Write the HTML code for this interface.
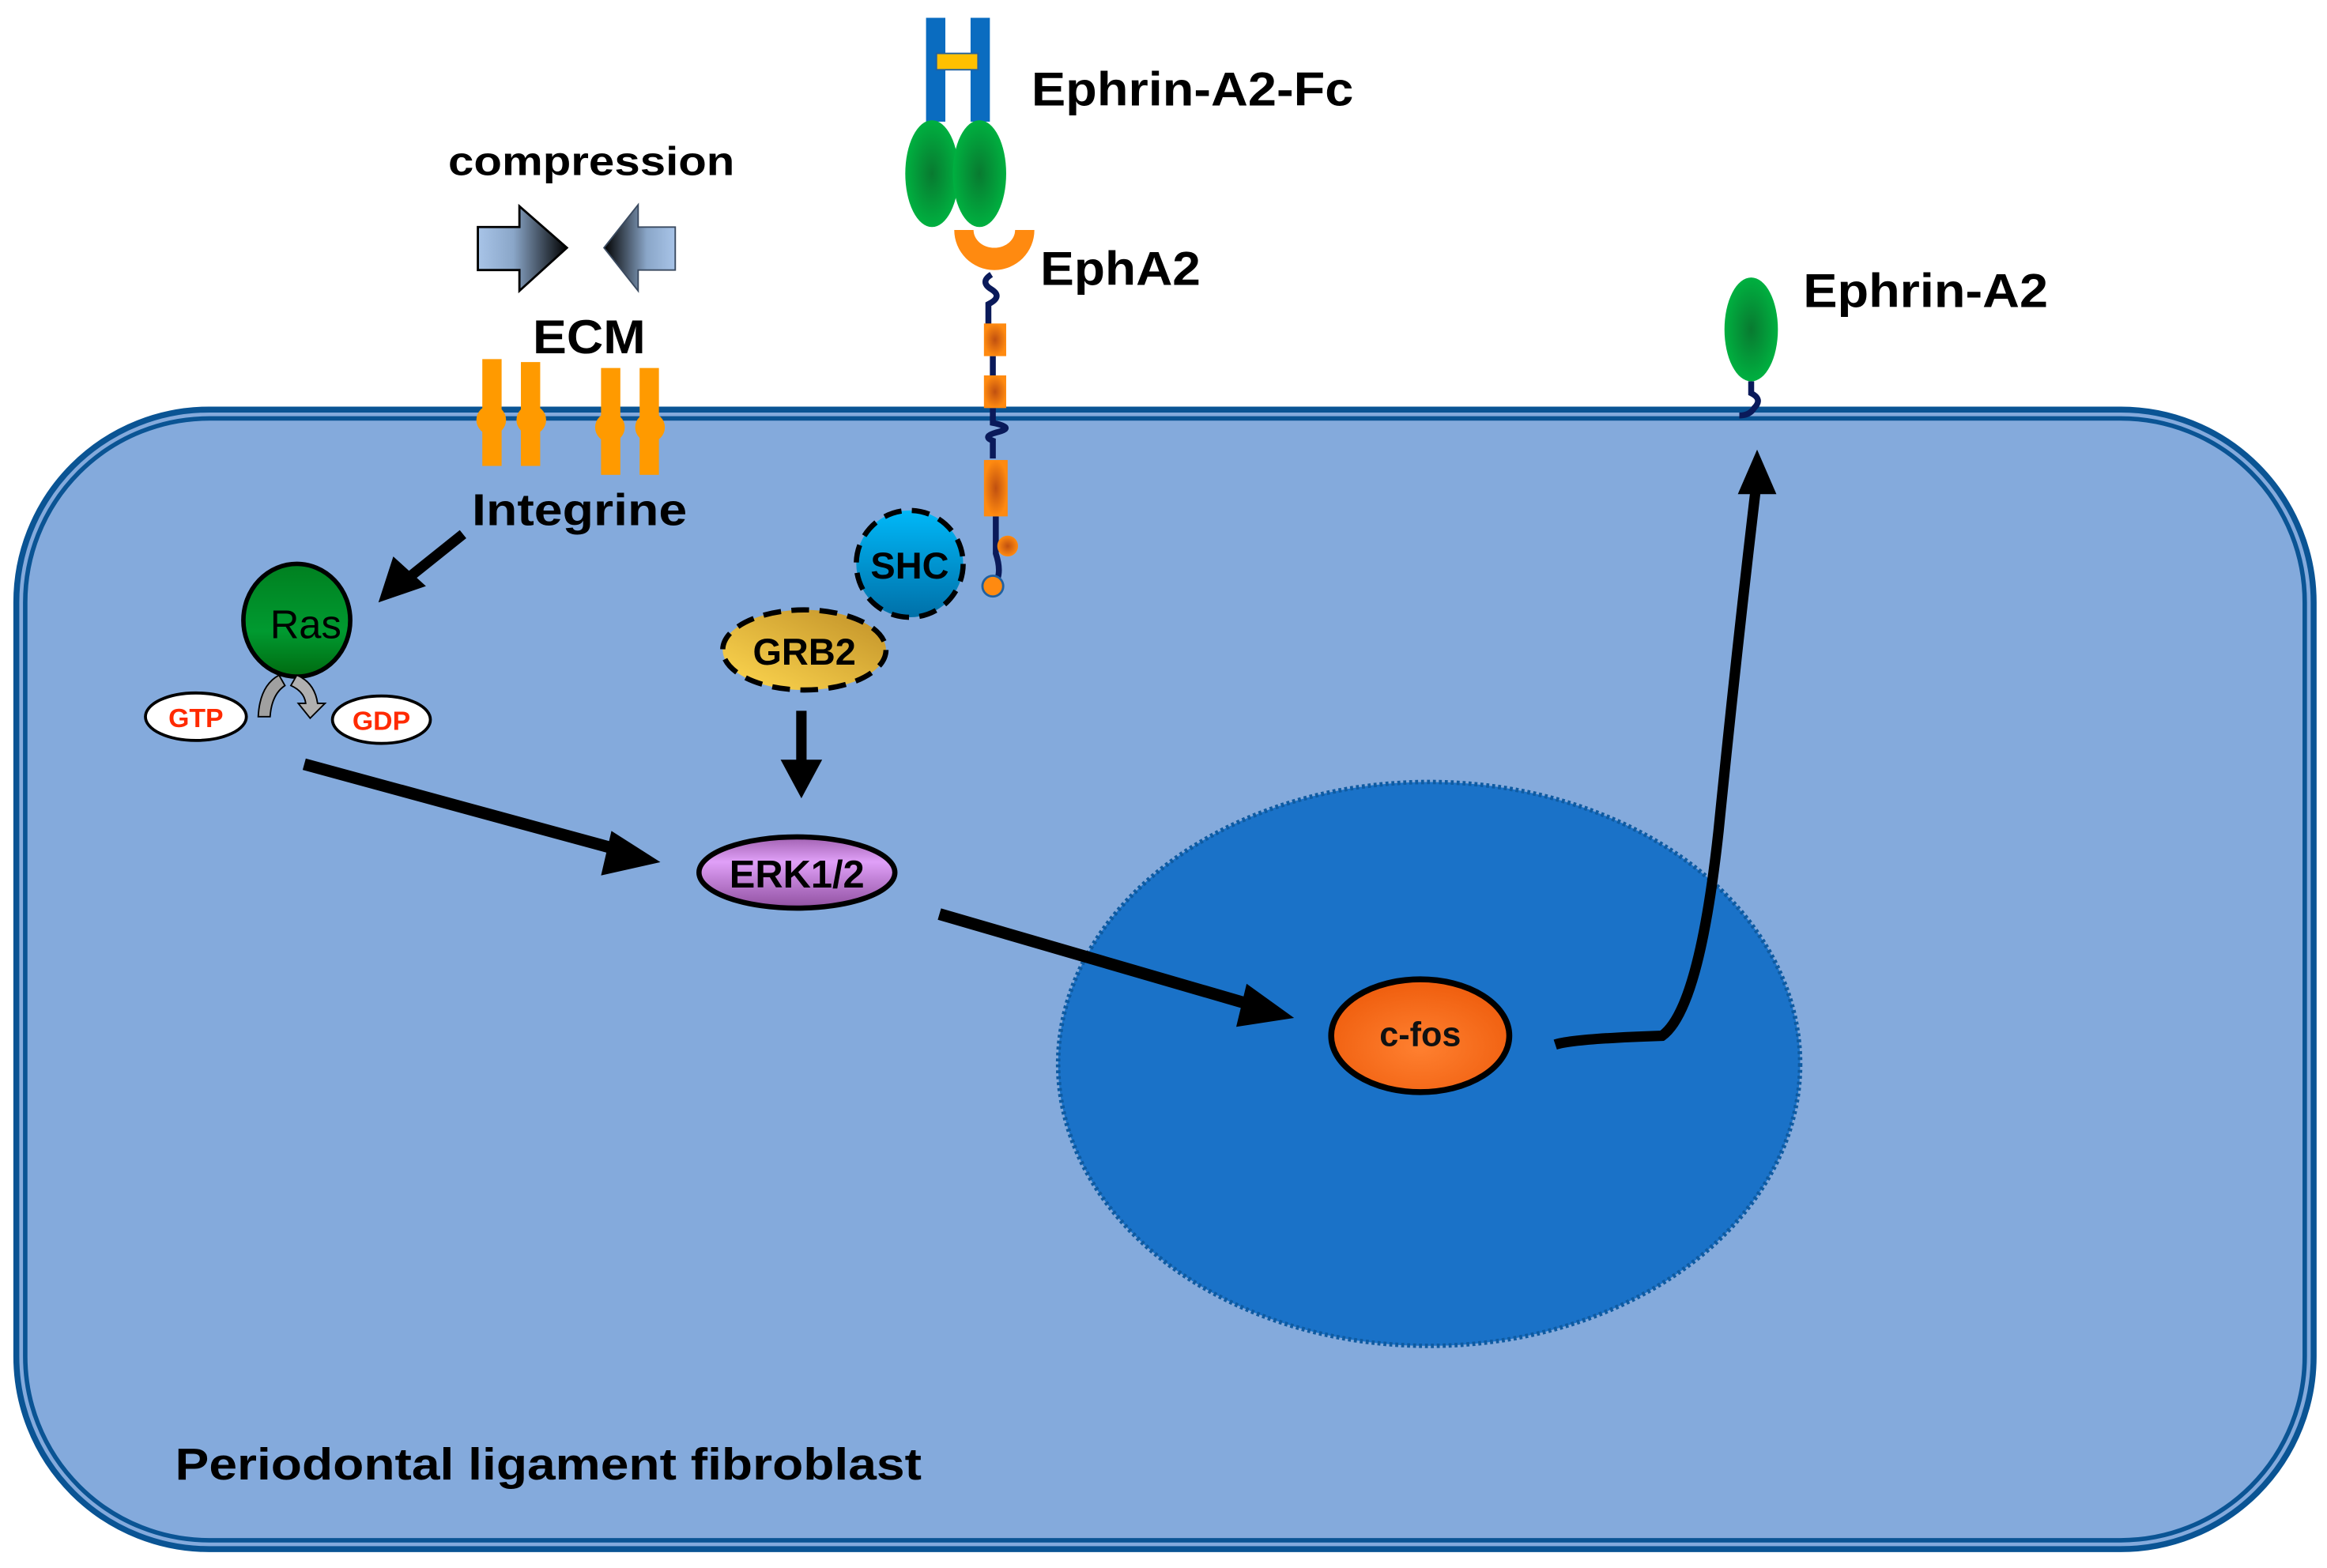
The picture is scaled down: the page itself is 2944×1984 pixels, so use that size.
<!DOCTYPE html>
<html><head><meta charset="utf-8"><style>html,body{margin:0;padding:0;background:#fff}svg{display:block}</style></head>
<body>
<svg width="2944" height="1984" viewBox="0 0 1568 1056.7" preserveAspectRatio="none" xmlns="http://www.w3.org/2000/svg" font-family="Liberation Sans, Arial, sans-serif">
<defs>
<radialGradient id="gr" cx="0.5" cy="0.5" r="0.5"><stop offset="0" stop-color="#087a30"/><stop offset="1" stop-color="#00b040"/></radialGradient>
<linearGradient id="ras" x1="0" y1="0" x2="0" y2="1"><stop offset="0" stop-color="#008020"/><stop offset="0.6" stop-color="#009a30"/><stop offset="1" stop-color="#006a10"/></linearGradient>
<linearGradient id="shc" x1="0" y1="0" x2="0" y2="1"><stop offset="0" stop-color="#00b8f8"/><stop offset="1" stop-color="#0070a8"/></linearGradient>
<linearGradient id="grb" x1="0" y1="1" x2="1" y2="0"><stop offset="0" stop-color="#ffd850"/><stop offset="1" stop-color="#c09028"/></linearGradient>
<linearGradient id="erk" x1="0" y1="0" x2="0" y2="1"><stop offset="0" stop-color="#a060b0"/><stop offset="0.35" stop-color="#e0a0f8"/><stop offset="1" stop-color="#9050a0"/></linearGradient>
<radialGradient id="fos" cx="0.5" cy="0.6" r="0.55"><stop offset="0" stop-color="#ff8030"/><stop offset="1" stop-color="#f06010"/></radialGradient>
<radialGradient id="or" cx="0.5" cy="0.5" r="0.5"><stop offset="0" stop-color="#c05010"/><stop offset="1" stop-color="#ff8a10"/></radialGradient>
<linearGradient id="ar1" x1="0" y1="0" x2="1" y2="0"><stop offset="0" stop-color="#a8c4e8"/><stop offset="0.4" stop-color="#8aa6c8"/><stop offset="1" stop-color="#000"/></linearGradient>
<linearGradient id="ar2" x1="1" y1="0" x2="0" y2="0"><stop offset="0" stop-color="#a8c4e8"/><stop offset="0.4" stop-color="#8aa6c8"/><stop offset="1" stop-color="#000"/></linearGradient>
</defs>

<rect x="11" y="276" width="1548" height="768" rx="130" ry="130" fill="#84aadc" stroke="#0a5494" stroke-width="4"/>
<rect x="17" y="282" width="1536" height="756" rx="124" ry="124" fill="none" stroke="#0a5494" stroke-width="3"/>

<ellipse cx="963" cy="717" rx="250" ry="190" fill="#1a72c8" stroke="#0e5aa0" stroke-width="3" stroke-dasharray="2,2"/>

<text x="302" y="118" font-size="27" font-weight="bold" textLength="193" lengthAdjust="spacingAndGlyphs">compression</text>
<path d="M322,153 H350 V139 L382,167 L350,196 V182 H322 Z" fill="url(#ar1)" stroke="#000" stroke-width="1.5"/>
<path d="M455,153 H430 V138 L407,167 L430,196 V182 H455 Z" fill="url(#ar2)" stroke="#3a4a60" stroke-width="1"/>
<text x="359" y="238" font-size="32" font-weight="bold" textLength="76" lengthAdjust="spacingAndGlyphs">ECM</text>

<g fill="#ff9a00">
<rect x="325" y="242" width="13" height="72"/><circle cx="331" cy="283" r="10"/>
<rect x="351" y="244" width="13" height="70"/><circle cx="358" cy="283" r="10"/>
<rect x="405" y="248" width="13" height="72"/><circle cx="411" cy="288" r="10"/>
<rect x="431" y="248" width="13" height="72"/><circle cx="438" cy="288" r="10"/>
</g>
<text x="318" y="354" font-size="30" font-weight="bold" textLength="145" lengthAdjust="spacingAndGlyphs">Integrine</text>

<rect x="624" y="12" width="13" height="70" fill="#0a6cc0"/>
<rect x="654" y="12" width="13" height="70" fill="#0a6cc0"/>
<rect x="631" y="36" width="28" height="11" fill="#ffc000" stroke="#2060a0" stroke-width="1"/>
<ellipse cx="628" cy="117" rx="18" ry="36" fill="url(#gr)"/>
<ellipse cx="660" cy="117" rx="18" ry="36" fill="url(#gr)"/>
<text x="695" y="71" font-size="32" font-weight="bold" textLength="217" lengthAdjust="spacingAndGlyphs">Ephrin-A2-Fc</text>
<path d="M643,155 A27,27 0 0 0 697,155 H684 A14,12 0 0 1 656,155 Z" fill="#ff8a10"/>
<text x="701" y="192" font-size="32" font-weight="bold" textLength="108" lengthAdjust="spacingAndGlyphs">EphA2</text>
<path d="M668,185 q-8,5 0,10 q8,5 -2,10 v15 M669,240 v15 M669,275 v10 q15,3 4,6 q-12,3 -4,6 v12 M671,348 v25 q5,15 -2,22" fill="none" stroke="#0a1a5a" stroke-width="4"/>
<rect x="663" y="218" width="15" height="22" fill="url(#or)"/>
<rect x="663" y="253" width="15" height="22" fill="url(#or)"/>
<rect x="663" y="310" width="16" height="38" fill="url(#or)"/>
<circle cx="679" cy="368" r="7" fill="url(#or)"/>
<circle cx="669" cy="395" r="7" fill="#ff8a10" stroke="#2060a0" stroke-width="1.5"/>

<ellipse cx="1180" cy="222" rx="18" ry="35" fill="url(#gr)"/>
<path d="M1180,257 v8 q8,4 2,10 q-3,5 -10,5" fill="none" stroke="#0a1a5a" stroke-width="4"/>
<text x="1215" y="207" font-size="32" font-weight="bold" textLength="165" lengthAdjust="spacingAndGlyphs">Ephrin-A2</text>

<circle cx="613" cy="380" r="36" fill="url(#shc)" stroke="#000" stroke-width="3.5" stroke-dasharray="12,7"/>
<text x="613" y="390" font-size="25" font-weight="bold" text-anchor="middle">SHC</text>
<ellipse cx="542" cy="438" rx="55" ry="27" fill="url(#grb)" stroke="#000" stroke-width="3.5" stroke-dasharray="12,7"/>
<text x="542" y="448" font-size="25" font-weight="bold" text-anchor="middle">GRB2</text>

<ellipse cx="200" cy="418" rx="36" ry="38" fill="url(#ras)" stroke="#000" stroke-width="3"/>
<text x="206" y="430" font-size="27" text-anchor="middle" fill="#000">Ras</text>
<path d="M174,483 Q175,462 188,455 L192,462 Q183,468 182,483 Z" fill="#a0a0a0" stroke="#000" stroke-width="1"/>
<path d="M200,455 Q212,460 214,474 L219,474 L209,484 L201,474 L206,474 Q205,466 196,462 Z" fill="#b0b0b0" stroke="#000" stroke-width="1"/>
<ellipse cx="132" cy="483" rx="34" ry="16" fill="#fff" stroke="#000" stroke-width="2"/>
<text x="132" y="490" font-size="18" font-weight="bold" fill="#ff2a00" text-anchor="middle">GTP</text>
<ellipse cx="257" cy="485" rx="33" ry="16" fill="#fff" stroke="#000" stroke-width="2"/>
<text x="257" y="492" font-size="18" font-weight="bold" fill="#ff2a00" text-anchor="middle">GDP</text>

<ellipse cx="537" cy="588" rx="66" ry="24" fill="url(#erk)" stroke="#000" stroke-width="3.5"/>
<text x="537" y="598" font-size="26" font-weight="bold" text-anchor="middle">ERK1/2</text>

<ellipse cx="957" cy="698" rx="60" ry="38" fill="url(#fos)" stroke="#000" stroke-width="4"/>
<text x="957" y="705" font-size="23" font-weight="bold" text-anchor="middle" fill="#111">c-fos</text>

<g fill="#000" stroke="#000">
<line x1="312" y1="360" x2="272" y2="392" stroke-width="7"/>
<polygon points="255,406 265,375 287,395" stroke="none"/>
<line x1="205" y1="515" x2="418" y2="573" stroke-width="8"/>
<polygon points="445,581 412,560 405,590" stroke="none"/>
<line x1="540" y1="479" x2="540" y2="515" stroke-width="7"/>
<polygon points="540,538 526,512 554,512" stroke="none"/>
<line x1="633" y1="616" x2="846" y2="678" stroke-width="8"/>
<polygon points="872,686 840,663 833,692" stroke="none"/>
<path d="M1048,704 Q1060,700 1120,698 Q1145,680 1158,560 Q1170,440 1183,330" fill="none" stroke-width="7"/>
<polygon points="1184,303 1171,333 1197,333" stroke="none"/>
</g>

<text x="118" y="997" font-size="30" font-weight="bold" textLength="503" lengthAdjust="spacingAndGlyphs">Periodontal ligament fibroblast</text>
</svg>
</body></html>
